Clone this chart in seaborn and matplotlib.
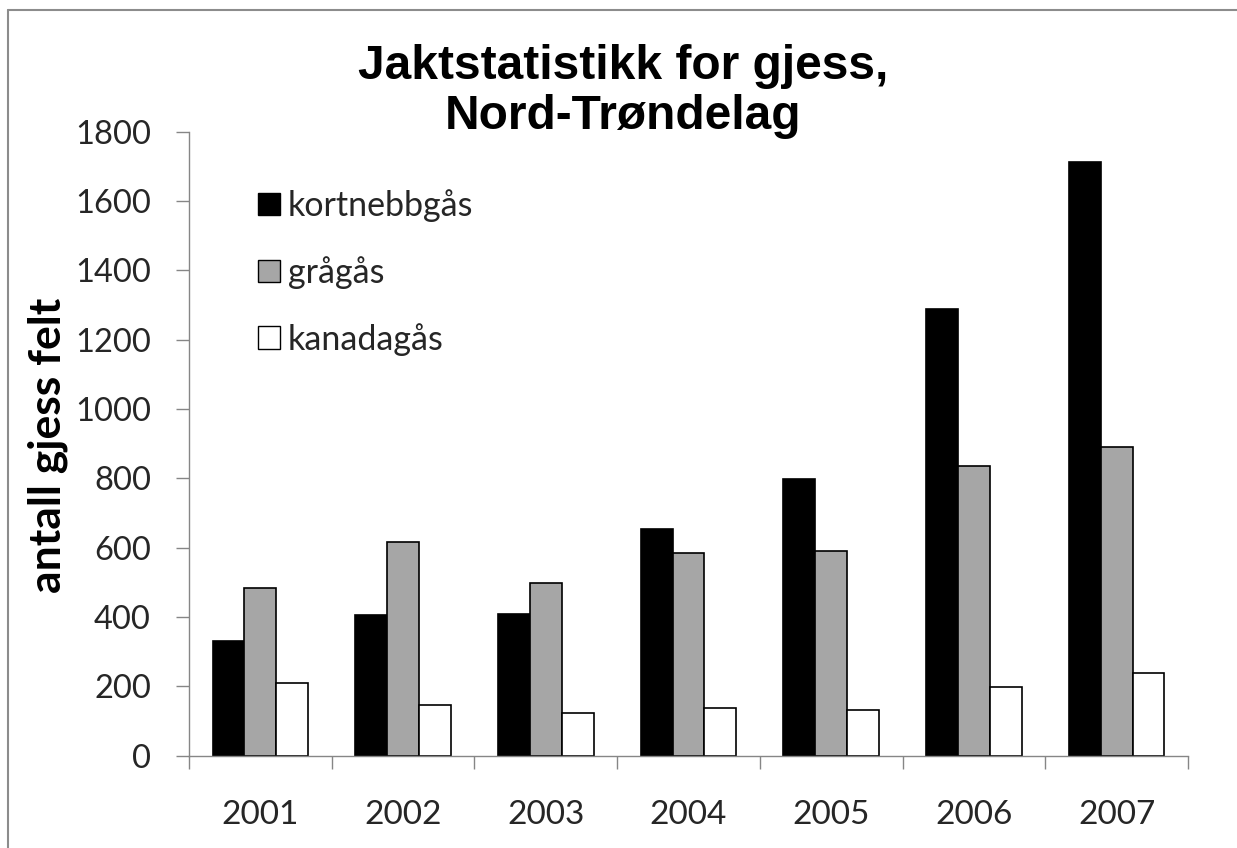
import matplotlib
matplotlib.use("Agg")
import matplotlib.pyplot as plt
import seaborn as sns
import pandas as pd
from matplotlib.lines import Line2D
from matplotlib.ticker import FixedLocator

years = ["2001", "2002", "2003", "2004", "2005", "2006", "2007"]
kortnebbgas = [332, 407, 410, 655, 799, 1288, 1713]
graagas = [484, 617, 497, 584, 590, 835, 890]
kanadagas = [210, 146, 123, 138, 133, 197, 238]
species = ["kortnebbgås", "grågås", "kanadagås"]
colors = ["#000000", "#A6A6A6", "#FFFFFF"]
yticks = [0, 200, 400, 600, 800, 1000, 1200, 1400, 1600, 1800]
title = "Jaktstatistikk for gjess,\nNord-Trøndelag"
ylabel = "antall gjess felt"

rows = []
for name, vals in zip(species, [kortnebbgas, graagas, kanadagas]):
    for y, v in zip(years, vals):
        rows.append({"year": y, "antall": v, "art": name})
df = pd.DataFrame(rows)

sns.set_theme(style="white")
plt.rcParams["font.family"] = ["Lato", "DejaVu Sans"]

fig = plt.figure(figsize=(12.37, 8.48), dpi=100)
ax = fig.add_axes([189/1237, (848-755.7)/848, 999/1237, 624/848])

sns.barplot(data=df, x="year", y="antall", hue="art", hue_order=species,
            order=years, palette=colors, width=0.67, gap=0,
            edgecolor="black", linewidth=1.2, saturation=1, ax=ax)

ax.set_xlim(-0.5, 6.5)
ax.set_ylim(0, 1800)
ax.set_yticks(yticks)
ax.set_yticklabels([str(t) for t in yticks])
ax.set_xlabel("")
ax.set_ylabel(ylabel, fontsize=32, fontweight="bold", color="black")
ax.yaxis.set_label_coords(-0.121, 0.498)

grey = "#868686"
for s in ["top", "right"]:
    ax.spines[s].set_visible(False)
for s in ["left", "bottom"]:
    ax.spines[s].set_color(grey)
    ax.spines[s].set_linewidth(1.0)

ax.tick_params(axis="y", which="major", left=True, length=9.4, width=1.0,
               color=grey, labelsize=23.5, labelcolor="#262626", pad=18, direction="out")
ax.xaxis.set_minor_locator(FixedLocator([i - 0.5 for i in range(8)]))
ax.tick_params(axis="x", which="major", bottom=True, length=0, labelsize=24,
               labelcolor="#262626", pad=32)
ax.tick_params(axis="x", which="minor", bottom=True, length=9.4, width=1.0,
               color=grey, direction="out")

sns.move_legend(ax, "upper left", bbox_to_anchor=(0.069, 0.908), frameon=False,
                title=None, fontsize=24.5, handlelength=0.65, handleheight=0.65,
                handletextpad=0.22, labelspacing=1.0, borderaxespad=0, borderpad=0)
for h in ax.get_legend().legend_handles:
    h.set_edgecolor("black")
    h.set_linewidth(1.0)
for t in ax.get_legend().get_texts():
    t.set_color("#262626")

fig.text(623/1237, 1 - 44/848, title, ha="center", va="top",
         fontsize=34.5, fontweight="bold", family=["Liberation Sans", "DejaVu Sans"],
         linespacing=1.15, color="black")

# outer frame
fig.add_artist(Line2D([8/1237, 8/1237], [0, 1 - 10/848], transform=fig.transFigure,
                      color="#8c8c8c", lw=1.5))
fig.add_artist(Line2D([8/1237, 1], [1 - 10/848, 1 - 10/848], transform=fig.transFigure,
                      color="#8c8c8c", lw=1.5))

fig.savefig("out.png", dpi=100)
